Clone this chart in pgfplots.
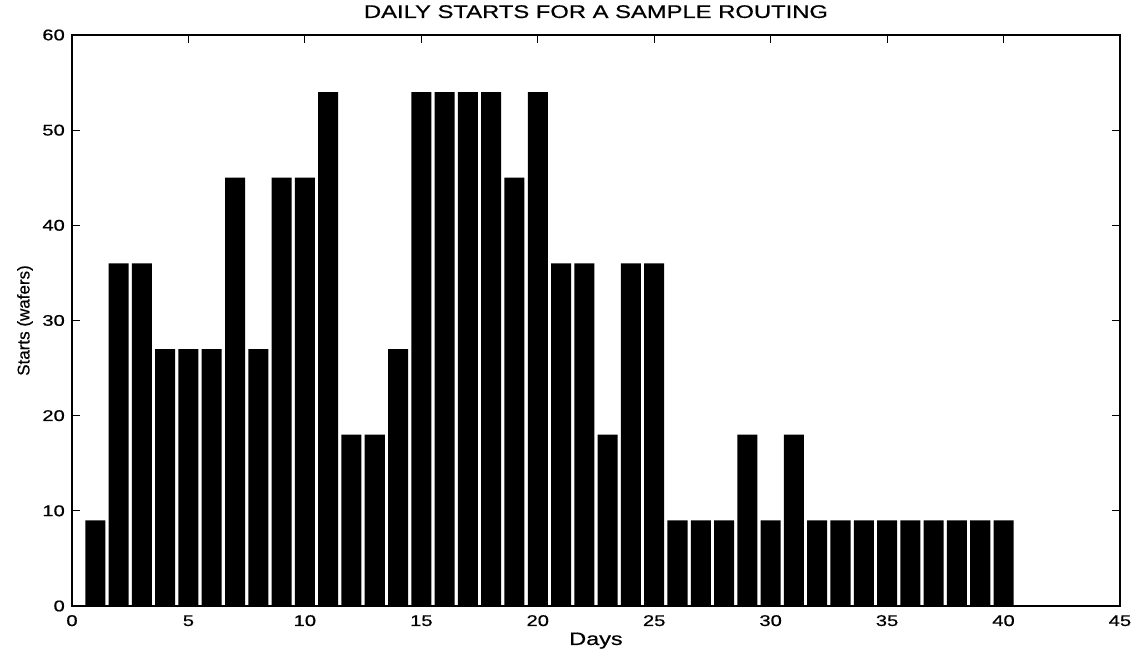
\documentclass[border=0pt]{standalone}
\usepackage{fontspec}
\setmainfont{Liberation Sans}
\newfontfamily\widefont[FakeStretch=1.3,FakeBold=0.6]{Liberation Sans}
\newfontfamily\lblfont[FakeBold=0.4]{Liberation Sans}
\usepackage{pgfplots}
\pgfplotsset{compat=1.18}
\begin{document}
\begin{tikzpicture}
\begin{axis}[
  scale only axis, width=1048pt, height=571pt,
  xmin=0, xmax=45, ymin=0, ymax=60,
  xtick={0,5,...,45}, ytick={0,10,...,60},
  tick align=inside, major tick length=8pt,
  tick style={line width=1pt, black},
  axis line style={line width=1.1pt},
  /pgf/number format/assume math mode=true,
  ticklabel style={font=\widefont\fontsize{15.5}{18}\selectfont, inner sep=0pt},
  xticklabel style={anchor=base, yshift=-20pt},
  yticklabel style={anchor=east, xshift=-7pt},
  title={DAILY STARTS FOR A SAMPLE ROUTING},
  title style={font=\widefont\fontsize{18.3}{20}\selectfont, at={(axis description cs:0.5,1.0193)}, anchor=base, inner sep=0pt},
  xlabel={Days},
  xlabel style={font=\widefont\fontsize{18}{20}\selectfont, at={(axis description cs:0.5,-0.0683)}, anchor=base, inner sep=0pt},
  ylabel={Starts (wafers)},
  ylabel style={font=\lblfont\fontsize{17}{18}\selectfont, at={(axis description cs:-0.0448,0.5)}, anchor=center, inner sep=0pt},
  clip=false,
]
\addplot[ybar, bar width=0.86, fill=black, draw=none] coordinates {
(1,9) (2,36) (3,36) (4,27) (5,27) (6,27) (7,45) (8,27) (9,45) (10,45)
(11,54) (12,18) (13,18) (14,27) (15,54) (16,54) (17,54) (18,54) (19,45) (20,54)
(21,36) (22,36) (23,18) (24,36) (25,36) (26,9) (27,9) (28,9) (29,18) (30,9)
(31,18) (32,9) (33,9) (34,9) (35,9) (36,9) (37,9) (38,9) (39,9) (40,9)
};
\path (axis description cs:0,0) ++(-72pt,-44pt) rectangle ++(1135pt,650pt);
\end{axis}
\end{tikzpicture}
\end{document}
